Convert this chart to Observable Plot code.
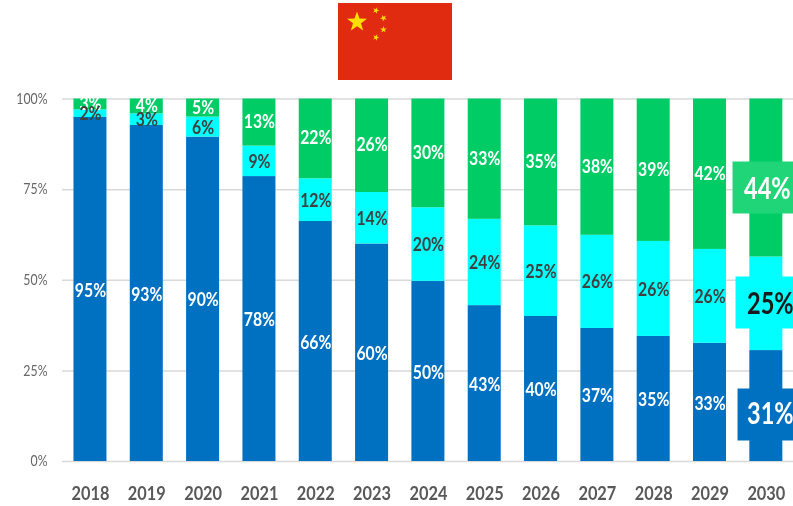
<!DOCTYPE html>
<html><head><meta charset="utf-8">
<script src="https://cdn.jsdelivr.net/npm/d3@7"></script>
<script src="https://cdn.jsdelivr.net/npm/@observablehq/plot@0.6"></script>
<style>
html,body{margin:0;padding:0;background:#fff;overflow:hidden}
#wrap{position:relative;width:793px;height:506px;filter:blur(0.4px)}
#flag{position:absolute;left:338px;top:3px;width:114px;height:77px}
svg{display:block}
</style></head><body>
<div id="wrap">
<svg id="flag" viewBox="0 0 114 77"><rect width="114" height="77" fill="#e02b10"/>
<g fill="#ffde00"><polygon points="0,-10.5 2.47,-3.4 10,-3.25 4,1.3 6.17,8.5 0,4.2 -6.17,8.5 -4,1.3 -10,-3.25 -2.47,-3.4" transform="translate(19,19)"/>
<polygon points="0,-10.5 2.47,-3.4 10,-3.25 4,1.3 6.17,8.5 0,4.2 -6.17,8.5 -4,1.3 -10,-3.25 -2.47,-3.4" transform="translate(38,7.5) scale(.33) rotate(20)"/>
<polygon points="0,-10.5 2.47,-3.4 10,-3.25 4,1.3 6.17,8.5 0,4.2 -6.17,8.5 -4,1.3 -10,-3.25 -2.47,-3.4" transform="translate(45.5,15) scale(.33) rotate(45)"/>
<polygon points="0,-10.5 2.47,-3.4 10,-3.25 4,1.3 6.17,8.5 0,4.2 -6.17,8.5 -4,1.3 -10,-3.25 -2.47,-3.4" transform="translate(45.5,26.5) scale(.33) rotate(0)"/>
<polygon points="0,-10.5 2.47,-3.4 10,-3.25 4,1.3 6.17,8.5 0,4.2 -6.17,8.5 -4,1.3 -10,-3.25 -2.47,-3.4" transform="translate(38,34.5) scale(.33) rotate(20)"/></g></svg>
</div>
<script>
const years = [2018,2019,2020,2021,2022,2023,2024,2025,2026,2027,2028,2029,2030];
const baseValues = [94.9,92.7,89.5,78.6,66.2,60.0,49.7,43.0,40.0,36.7,34.5,32.6,30.6];
const midValues  = [2.1,3.2,5.5,8.4,11.8,14.2,20.3,23.8,25.0,25.7,26.2,25.9,25.8];
const topValues  = [3.0,4.1,5.0,13.0,22.0,25.8,30.0,33.2,35.0,37.6,39.3,41.5,43.6];
const baseLabels = [95,93,90,78,66,60,50,43,40,37,35,33,31];
const midLabels  = [2,3,6,9,12,14,20,24,25,26,26,26,25];
const topLabels  = [3,4,5,13,22,26,30,33,35,38,39,42,44];
const yTicks = [0,25,50,75,100];
const seriesNames = ["base","mid","top"];
const seriesColors = ["#0070c0","#00ffff","#00cc66"];
const rows = [
  ...years.map((year,i)=>({year,series:"base",value:baseValues[i],label:baseLabels[i]+"%"})),
  ...years.map((year,i)=>({year,series:"mid",value:midValues[i],label:midLabels[i]+"%"})),
  ...years.map((year,i)=>({year,series:"top",value:topValues[i],label:topLabels[i]+"%"}))
];
const font = 'Lato,sans-serif';
const box = (x,y,w,h)=>({draw(c){c.rect(x,y,w,h);}});
const stack = o=>Plot.stackY({x:"year",y:"value",z:"series",...o});
const pick = (s,big,o)=>Plot.filter(d=>d.series===s && (d.year===2030)===big,stack(o));
const small = {fontSize:19,fontWeight:"bold"};
const large = {fontSize:31,fontWeight:"bold"};
const chart = Plot.plot({
  width:793,height:506,marginLeft:62,marginRight:0,marginTop:98,marginBottom:45,
  style:{fontFamily:font,background:"transparent",overflow:"hidden"},
  x:{type:"band",domain:years,range:[61.8,794],paddingInner:0.414,paddingOuter:0.207,round:false,label:null},
  y:{domain:[0,100],range:[461,98.5],label:null},
  color:{domain:seriesNames,range:seriesColors},
  marks:[
    Plot.ruleY(yTicks,{stroke:"#d9d9d9",strokeWidth:1.5}),
    Plot.barY(rows,stack({fill:"series"})),
    Plot.axisY({ticks:yTicks,tickSize:0,tickPadding:0,dx:-15,tickFormat:d=>d+"%",fontSize:15,fill:"#666",label:null}),
    Plot.axisX({tickSize:0,tickPadding:0,dy:24.5,fontSize:19,fontWeight:"bold",fill:"#595959",label:null,tickFormat:d=>String(d)}),
    Plot.text(rows,pick("base",false,{text:"label",fill:"#fff",...small,dy:1})),
    Plot.text(rows,pick("top",false,{text:"label",fill:"#fff",...small,dy:-0.5})),
    Plot.text(rows,pick("mid",false,{text:"label",fill:"#404040",...small,dy:0.5})),
    Plot.dot(rows,pick("top",true,{fill:"#1fd577",symbol:box(-33.8,-16.5,61,52)})),
    Plot.dot(rows,pick("mid",true,{fill:"#00ffff",symbol:box(-30.8,-27.3,58,52)})),
    Plot.dot(rows,pick("base",true,{fill:"#0070c0",symbol:box(-28.8,-17.5,56,52)})),
    Plot.text(rows,pick("top",true,{text:"label",fill:"#fff",...large,dy:11.5,dx:1})),
    Plot.text(rows,pick("mid",true,{text:"label",fill:"#1a1a1a",...large,dx:4})),
    Plot.text(rows,pick("base",true,{text:"label",fill:"#fff",...large,dx:4,dy:8.5}))
  ]
});
document.getElementById("wrap").prepend(chart);
// Condense the labels to the narrow look of the original typeface
const squeeze = {"text":0.83,"y-axis tick label":0.82,"x-axis tick label":0.86};
for (const [label,k] of Object.entries(squeeze)) {
  chart.querySelectorAll(`g[aria-label="${label}"] text`).forEach(t=>{
    const big = t.parentNode.getAttribute("font-size")==31;
    t.setAttribute("textLength",t.getComputedTextLength()*(big?0.76:k));
    t.setAttribute("lengthAdjust","spacingAndGlyphs");
  });
}
</script>
</body></html>
